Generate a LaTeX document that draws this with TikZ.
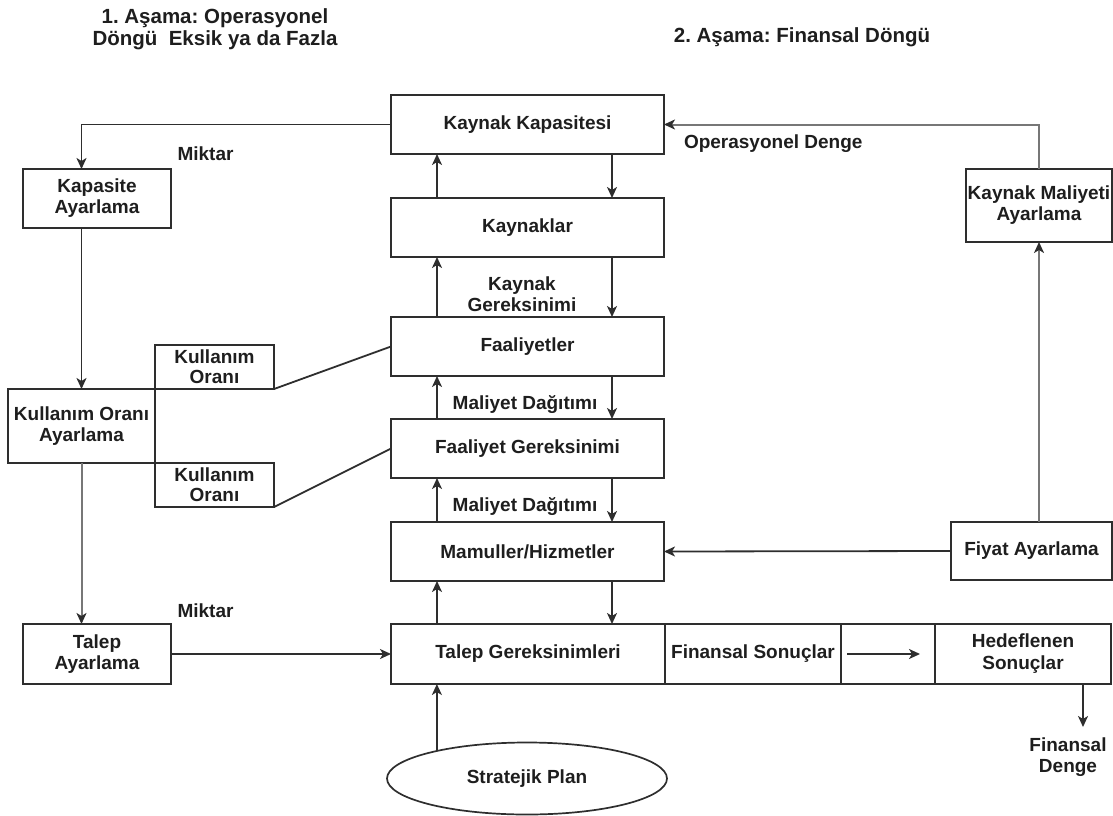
\documentclass[tikz,border=0pt]{standalone}
\usepackage{fontspec}
\setmainfont{Liberation Sans}
\usetikzlibrary{arrows.meta,shapes.geometric}
\definecolor{ink}{HTML}{1E1E1E}
\definecolor{edge}{HTML}{2E2E2E}
\definecolor{soft}{HTML}{777777}
\frenchspacing

\begin{document}
\begin{tikzpicture}[x=1pt,y=-1pt,
  every node/.style={font=\bfseries\fontsize{19}{21}\selectfont, text=ink,
    align=center, inner sep=0pt, outer sep=0pt},
  sz/.style n args={2}{minimum width=#1pt, minimum height=#2pt},
  box/.style={draw=edge, line width=1.7pt, rectangle},
  head/.style={font=\bfseries\fontsize{20.5}{22}\selectfont},
  tip/.style={-{Stealth[length=11pt,width=10pt,inset=3pt,color=edge]}},
  arr/.style={draw=edge, line width=1.8pt, tip},
  garr/.style={draw=soft, line width=2pt, tip},
  plain/.style={draw=edge, line width=1.8pt}
]
\useasboundingbox (0,0) rectangle (1113,816);

% headings
\node[head] (h1) at (215,29) {1. Aşama: Operasyonel\\Döngü\ \ Eksik ya da Fazla};
\node[head] (h2) at (802,37) {2. Aşama: Finansal Döngü};

% central column
\node[box, sz={273}{59}] (kk)  at (527.5,124.5) {Kaynak Kapasitesi};
\node[box, sz={273}{59}] (kay) at (527.5,227.5) {Kaynaklar};
\node[box, sz={273}{59}] (faal) at (527.5,346.5) {Faaliyetler};
\node[box, sz={273}{59}] (fg)  at (527.5,448.5) {Faaliyet Gereksinimi};
\node[box, sz={273}{59}] (mh)  at (527.5,551.5) {Mamuller/Hizmetler};

% bottom row
\node[box, sz={720}{60}] (row) at (751,654) {};
\node[box, sz={274}{60}] (tg) at (528,654) {Talep Gereksinimleri};
\node[box, sz={176}{60}] (fs) at (753,654) {Finansal Sonuçlar};
\node[box, sz={176}{60}, font=\bfseries\fontsize{19}{22}\selectfont] (hs) at (1023,654) {Hedeflenen\\Sonuçlar};

\node[draw=edge, line width=1.7pt, ellipse, minimum width=280pt, minimum height=72pt] (sp) at (527,778.5) {Stratejik Plan};

% left side
\node[box, sz={148}{59}] (ka)  at (97,198.5) {Kapasite\\Ayarlama};
\node[box, sz={147}{74}] (koa) at (81.5,426) {Kullanım Oranı\\Ayarlama};
\node[box, sz={119}{44}, font=\bfseries\fontsize{19}{20}\selectfont] (ko1) at (214.5,367) {Kullanım\\Oranı};
\node[box, sz={119}{44}, font=\bfseries\fontsize{19}{20}\selectfont] (ko2) at (214.5,485) {Kullanım\\Oranı};
\node[box, sz={148}{60}] (ta)  at (97,654) {Talep\\Ayarlama};

% right side
\node[box, sz={146}{73}] (kma) at (1039,205.5) {Kaynak Maliyeti\\Ayarlama};
\node[box, sz={161}{58}] (fa)  at (1031.5,551) {Fiyat Ayarlama};

% labels
\node (m1) at (205.5,154) {Miktar};
\node (m2) at (205.5,611) {Miktar};
\node[anchor=west] (od) at (684,144) {Operasyonel Denge};
\node (kg) at (522,294) {Kaynak\\Gereksinimi};
\node (md1) at (525,405) {Maliyet Dağıtımı};
\node (md2) at (525,507) {Maliyet Dağıtımı};
\node (fd) at (1068,757) {Finansal\\Denge};

% central up / down flows
\draw[arr] ([xshift=-90.5pt]kay.north) -- ([xshift=-90.5pt]kk.south);
\draw[arr] ([xshift=84.5pt]kk.south) -- ([xshift=84.5pt]kay.north);
\draw[arr] ([xshift=-90.5pt]faal.north) -- ([xshift=-90.5pt]kay.south);
\draw[arr] ([xshift=84.5pt]kay.south) -- ([xshift=84.5pt]faal.north);
\draw[arr] ([xshift=-90.5pt]fg.north) -- ([xshift=-90.5pt]faal.south);
\draw[arr] ([xshift=84.5pt]faal.south) -- ([xshift=84.5pt]fg.north);
\draw[arr] ([xshift=-90.5pt]mh.north) -- ([xshift=-90.5pt]fg.south);
\draw[arr] ([xshift=84.5pt]fg.south) -- ([xshift=84.5pt]mh.north);
\draw[arr] ([xshift=-91pt]tg.north) -- ([xshift=-90.5pt]mh.south);
\draw[arr] ([xshift=84.5pt]mh.south) -- ([xshift=84pt]tg.north);
\draw[arr] (sp.163) -- (sp.163 |- tg.south);

% bottom row flows
\draw[arr] ([xshift=6pt]fs.east) -- ([xshift=-15pt]hs.west);
\draw[arr] ([xshift=60pt]hs.south) -- ([xshift=60pt,yshift=-43pt]hs.south);

% operational loop
\draw[arr] (kk.west) -| (koa.north |- ka.north);
\draw[arr] (koa.north |- ka.south) -- (koa.north);
\draw[garr] (koa.south) -- (koa.south |- ta.north);
\draw[arr] (ta.east) -- (tg.west);
\draw[plain] (ko1.south east) -- (faal.west);
\draw[plain] (ko2.south east) -- (fg.west);

% financial loop
\draw[garr] (kma.north) |- (kk.east);
\draw[garr] (kma.south |- fa.north) -- (kma.south);
\draw[arr] (fa.west) -- (mh.east);
\end{tikzpicture}
\end{document}
